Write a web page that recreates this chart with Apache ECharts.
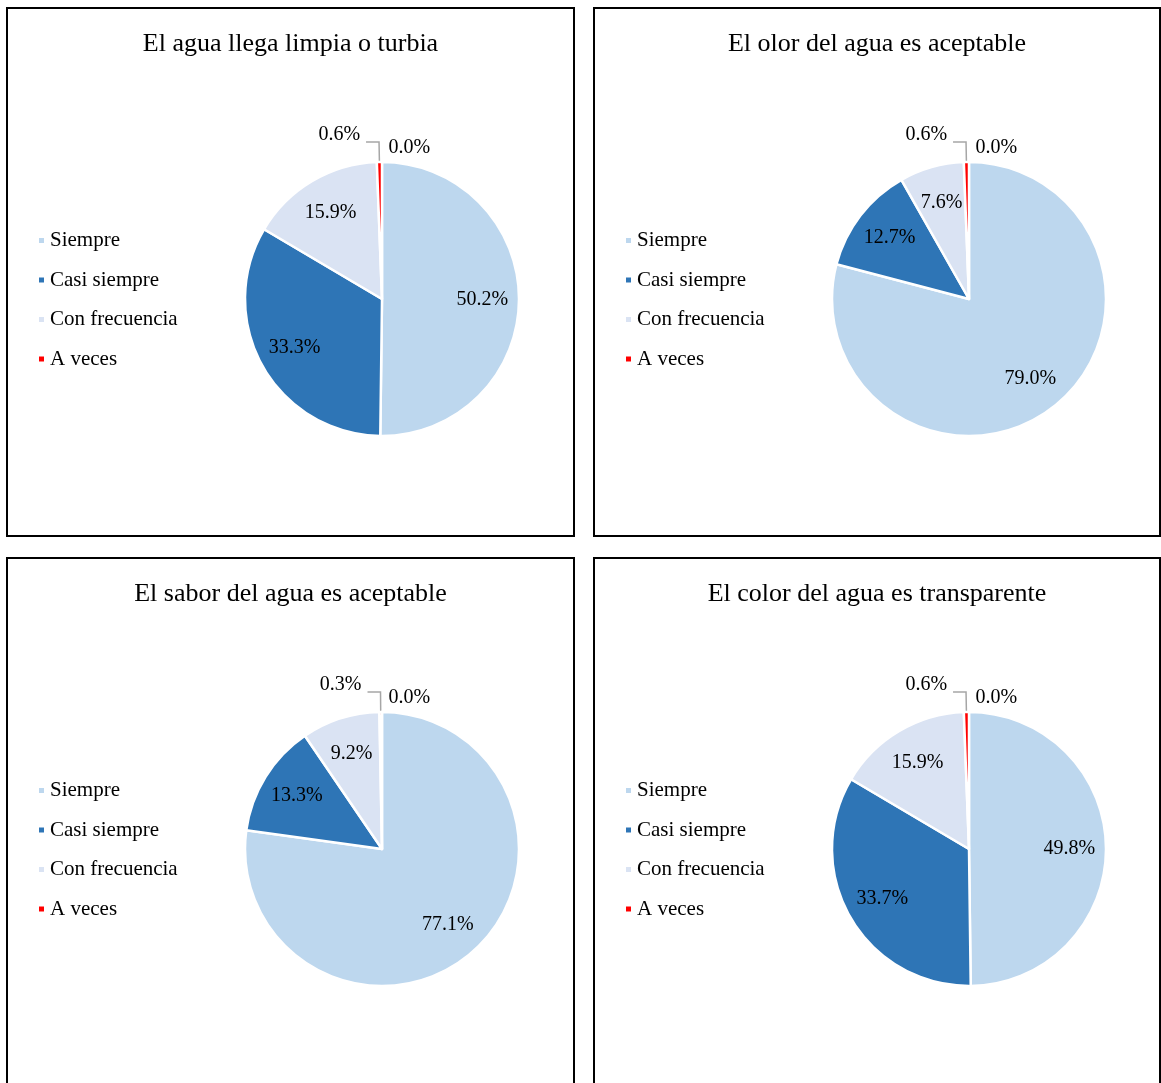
<!DOCTYPE html>
<html>
<head>
<meta charset="utf-8">
<script src="https://cdn.jsdelivr.net/npm/echarts@6/dist/echarts.min.js"></script>
<style>
html,body{margin:0;padding:0;background:#fff;width:1161px;height:1083px;overflow:hidden;}
.panel{position:absolute;box-sizing:border-box;border:2px solid #000;background:#fff;}
.chart{width:100%;height:100%;}
</style>
</head>
<body>
<div class="panel" style="left:6px;top:7px;width:569px;height:530px;"><div id="c0" class="chart"></div></div>
<div class="panel" style="left:593px;top:7px;width:568px;height:530px;"><div id="c1" class="chart"></div></div>
<div class="panel" style="left:6px;top:557px;width:569px;height:530px;"><div id="c2" class="chart"></div></div>
<div class="panel" style="left:593px;top:557px;width:568px;height:530px;"><div id="c3" class="chart"></div></div>
<script>
// ---- data ----
const categories = ['Siempre', 'Casi siempre', 'Con frecuencia', 'A veces', 'Nunca'];
const legendNames = ['Siempre', 'Casi siempre', 'Con frecuencia', 'A veces'];
const colors = ['#BDD7EE', '#2E75B6', '#DAE3F3', '#FF0000', '#7F7F7F'];
const titles = [
  'El agua llega limpia o turbia',
  'El olor del agua es aceptable',
  'El sabor del agua es aceptable',
  'El color del agua es transparente'
];
const valuesLimpia = [50.2, 33.3, 15.9, 0.6, 0.0];
const valuesOlor = [79.0, 12.7, 7.6, 0.6, 0.0];
const valuesSabor = [77.1, 13.3, 9.2, 0.3, 0.0];
const valuesColor = [49.8, 33.7, 15.9, 0.6, 0.0];
const allValues = [valuesLimpia, valuesOlor, valuesSabor, valuesColor];

const FONT = "'Liberation Serif', 'Times New Roman', serif";
const CX = 374, CY = 290, R = 137;

function fmt(v) { return v.toFixed(1) + '%'; }

function buildOption(title, values) {
  // order: zero slice first so it sits at 12 o'clock with label to the right
  const order = [4, 0, 1, 2, 3];
  const mainData = order.map(i => {
    const item = {
      name: categories[i],
      value: values[i],
      itemStyle: { color: colors[i] }
    };
    if (i === 3) {
      item.label = {
        show: true, position: 'outside', formatter: p => fmt(p.value) + '\n ',
        lineHeight: 14, distanceToLabelLine: 6
      };
      item.labelLine = { show: true, length: 20, length2: 13, lineStyle: { color: '#A6A6A6', width: 1.5 } };
    } else {
      item.label = { show: false };
      item.labelLine = { show: false };
    }
    return item;
  });
  const overlayData = order.map(i => ({
    name: categories[i],
    value: values[i],
    itemStyle: { color: 'rgba(0,0,0,0)', borderWidth: 0 },
    label: { show: i < 3 }
  }));
  // zero-value label carrier (transparent, tiny minimum angle so the label is laid out)
  const zeroData = order.map(i => ({
    name: categories[i],
    value: values[i],
    itemStyle: { color: 'rgba(0,0,0,0)', borderWidth: 0 },
    label: { show: i === 4 }
  }));
  return {
    animation: false,
    title: {
      text: title, left: 'center', top: 17,
      textStyle: { fontFamily: FONT, fontSize: 26, fontWeight: 'normal', color: '#000' }
    },
    legend: {
      data: legendNames, orient: 'vertical', left: 24, top: 216,
      icon: 'rect', itemWidth: 7, itemHeight: 7, itemGap: 18.5,
      textStyle: { fontFamily: FONT, fontSize: 21, color: '#000', lineHeight: 21, padding: [0, 0, 0, 0] },
      selectedMode: false
    },
    series: [
      {
        type: 'pie', center: [CX, CY], radius: R, startAngle: 90, clockwise: true,
        avoidLabelOverlap: false, silent: true,
        itemStyle: { borderColor: '#fff', borderWidth: 2.5 },
        label: { fontFamily: FONT, fontSize: 20, color: '#000' },
        data: mainData
      },
      {
        type: 'pie', center: [CX, CY], radius: R * 2 * 0.71, startAngle: 90, clockwise: true,
        avoidLabelOverlap: false, silent: true, legendHoverLink: false,
        label: { position: 'inside', formatter: p => fmt(p.value), fontFamily: FONT, fontSize: 20, color: '#000' },
        labelLine: { show: false },
        data: overlayData
      },
      {
        type: 'pie', center: [CX, CY], radius: R, startAngle: 90, clockwise: true, minAngle: 0.4,
        avoidLabelOverlap: false, silent: true, legendHoverLink: false,
        label: { position: 'outside', formatter: p => fmt(p.value), fontFamily: FONT, fontSize: 20, color: '#000', distanceToLabelLine: 6 },
        labelLine: { show: false, length: 14, length2: 0 },
        data: zeroData
      }
    ]
  };
}

for (let k = 0; k < 4; k++) {
  const chart = echarts.init(document.getElementById('c' + k), null, { renderer: 'canvas' });
  chart.setOption(buildOption(titles[k], allValues[k]));
}
</script>
</body>
</html>
